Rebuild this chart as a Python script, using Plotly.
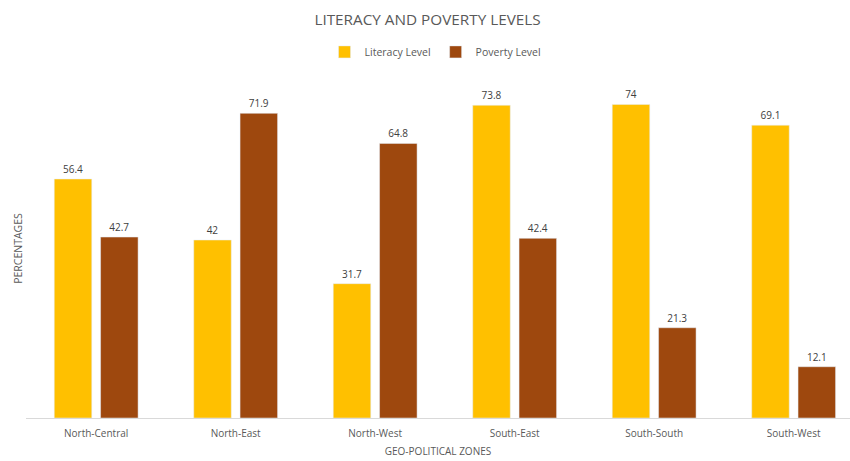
import plotly.graph_objects as go

zones = ["North-Central", "North-East", "North-West", "South-East", "South-South", "South-West"]
literacy = [56.4, 42, 31.7, 73.8, 74, 69.1]
poverty = [42.7, 71.9, 64.8, 42.4, 21.3, 12.1]

FONT = "Open Sans"
fig = go.Figure()
fig.add_trace(go.Bar(x=zones, y=literacy, name="Literacy Level", marker_color="#FFC000",
                     text=[str(v) for v in literacy], textposition="outside", cliponaxis=False,
                     textfont=dict(size=10, color="#404040", family=FONT)))
fig.add_trace(go.Bar(x=zones, y=poverty, name="Poverty Level", marker_color="#9E480E",
                     text=[str(v) for v in poverty], textposition="outside", cliponaxis=False,
                     textfont=dict(size=10, color="#404040", family=FONT)))

fig.update_layout(
    width=850, height=461,
    margin=dict(l=26, r=0, t=79, b=43),
    paper_bgcolor="white", plot_bgcolor="white",
    barmode="group", bargap=0.336, bargroupgap=0.19,
    font=dict(family=FONT, color="#595959", size=10),
    title=dict(text="LITERACY AND POVERTY LEVELS", x=0.503, xanchor="center", y=0.957, yanchor="middle",
               font=dict(size=15.3, color="#595959", family=FONT)),
    legend=dict(orientation="h", x=0.497, xanchor="center", y=1.08, yanchor="middle",
                font=dict(size=10.5, color="#595959"), itemwidth=30, tracegroupgap=0),
    showlegend=True,
)
fig.update_xaxes(range=[-0.503, 5.404], showline=True, linecolor="#D9D9D9", linewidth=1,
                 ticks="outside", ticklen=6, tickcolor="rgba(0,0,0,0)", showgrid=False,
                 tickfont=dict(size=10, color="#595959"),
                 title=dict(text="GEO-POLITICAL ZONES", font=dict(size=10, color="#595959"), standoff=8))
fig.update_yaxes(range=[0, 80], showticklabels=False, showgrid=False, zeroline=False,
                 title=dict(text="PERCENTAGES", font=dict(size=10.5, color="#595959"), standoff=0))
fig.write_html("out.html")
